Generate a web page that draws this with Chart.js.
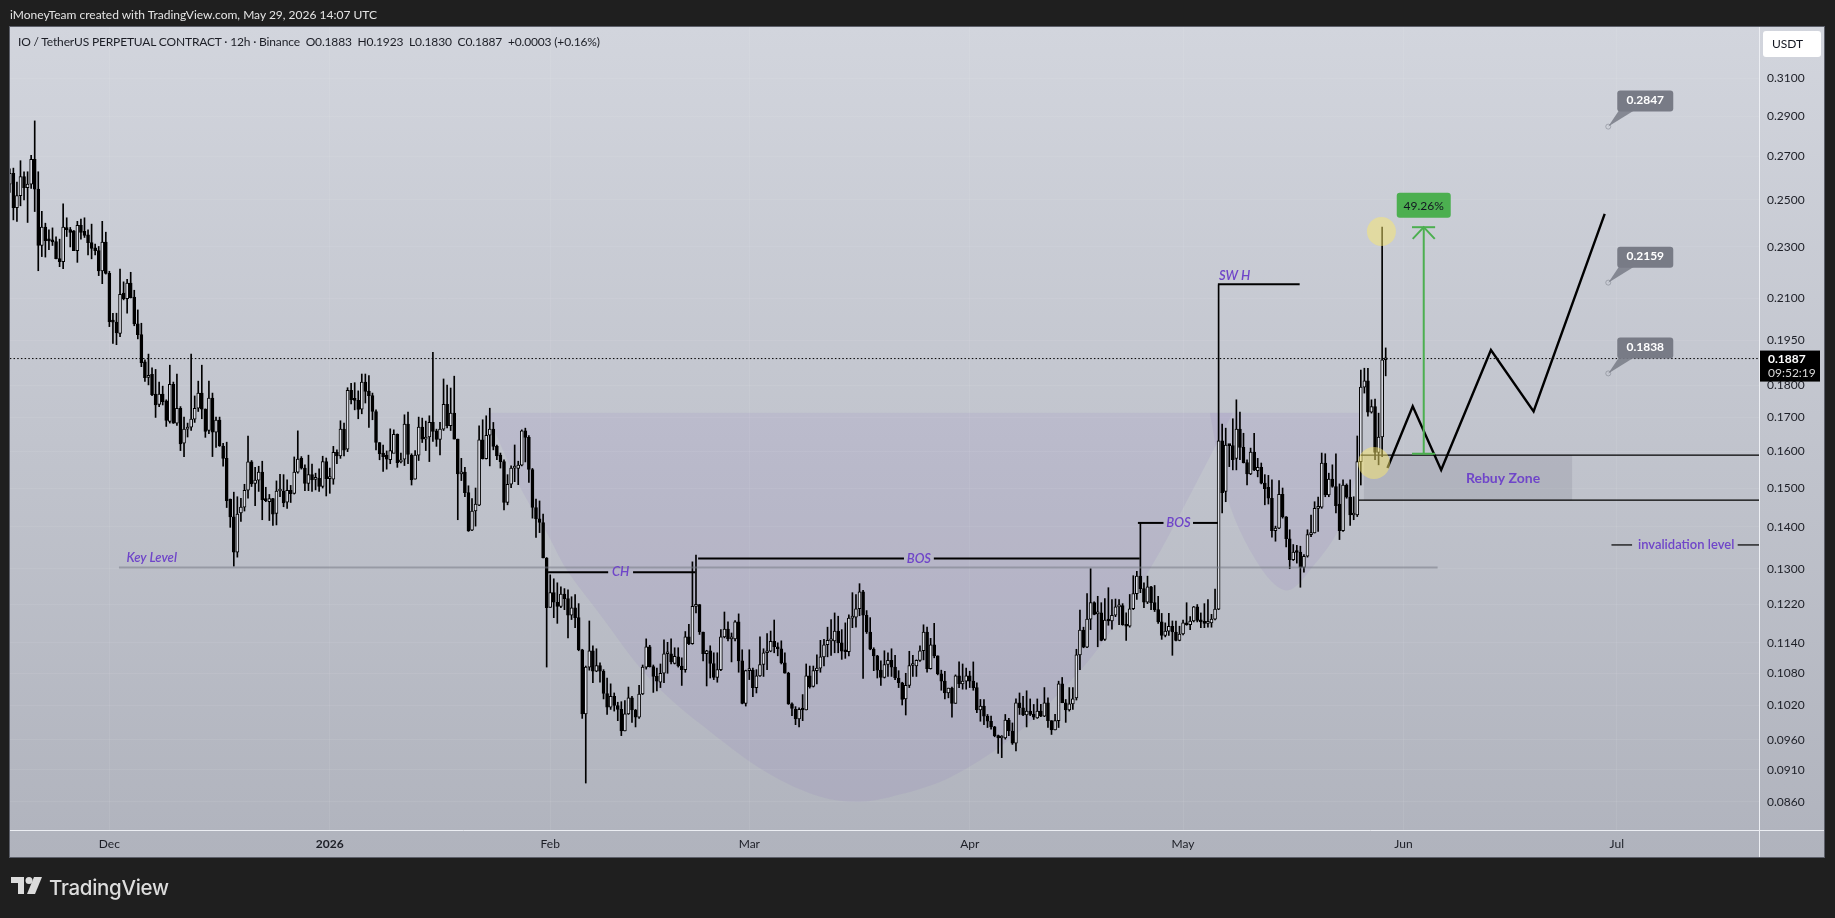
<!DOCTYPE html>
<html>
<head>
<meta charset="utf-8">
<title>IO / TetherUS 12h</title>
<script src="https://cdn.jsdelivr.net/npm/chart.js@4/dist/chart.umd.js"></script>
<style>
  html,body{margin:0;padding:0;background:#1f1f1f;overflow:hidden}
  #wrap{position:relative;width:1835px;height:918px}
  canvas{position:absolute;left:0;top:0}
  .txt{position:absolute;white-space:pre;font-family:Lato,"Noto Sans",sans-serif}
  #credit{left:10px;top:7px;font-size:12px;color:#e4e4e4}
  #legend{left:18px;top:34px;font-size:12px;letter-spacing:-.16px;color:#1c1e26}
  #brand{left:49px;top:875px;font-size:20.5px;font-weight:500;color:#dcdcdc;letter-spacing:-.3px;font-family:Inter,Lato,sans-serif}
  #logo{position:absolute;left:11px;top:877px}
</style>
</head>
<body>
<div id="wrap">
  <canvas id="chart" width="1835" height="918"></canvas>
  <div class="txt" id="credit">iMoneyTeam created with TradingView.com, May 29, 2026 14:07 UTC</div>
  <div class="txt" id="legend">IO / TetherUS PERPETUAL CONTRACT · 12h · Binance  O0.1883  H0.1923  L0.1830  C0.1887  +0.0003 (+0.16%)</div>
  <svg id="logo" width="31" height="18" viewBox="0 0 31 18"><path fill="#dcdcdc" d="M0 0h13v17H7V6H0z"/><circle fill="#dcdcdc" cx="18" cy="3.5" r="3.5"/><path fill="#dcdcdc" d="M23 0h8l-7 17h-8z"/></svg>
  <div class="txt" id="brand">TradingView</div>
</div>
<script>
// 12h candles, oldest first
const opens = [
.2571,.2621,.2466,.2519,.2606,.2555,.2571,.2687,.2548,.2306,
.2382,.2326,.2326,.2322,.2253,.2241,.2377,.2372,.2367,.2285,
.2390,.2365,.2350,.2318,.2296,.2285,.2204,.2320,.2195,.2017,
.2013,.1973,.2119,.2098,.2157,.2104,.2007,.1969,.1876,.1825,
.1835,.1772,.1740,.1772,.1751,.1688,.1803,.1683,.1728,.1624,
.1665,.1671,.1695,.1728,.1775,.1725,.1661,.1759,.1656,.1692,
.1616,.1581,.1471,.1425,.1339,.1435,.1450,.1494,.1571,.1512,
.1521,.1543,.1471,.1464,.1472,.1434,.1492,.1492,.1463,.1494,
.1486,.1543,.1581,.1554,.1512,.1536,.1523,.1526,.1504,.1572,
.1525,.1524,.1598,.1588,.1665,.1607,.1784,.1754,.1752,.1725,
.1810,.1781,.1767,.1718,.1626,.1596,.1590,.1577,.1595,.1650,
.1571,.1579,.1680,.1590,.1524,.1590,.1671,.1636,.1642,.1685,
.1660,.1635,.1665,.1740,.1675,.1713,.1636,.1538,.1543,.1488,
.1392,.1440,.1455,.1634,.1580,.1647,.1665,.1615,.1590,.1572,
.1462,.1510,.1554,.1553,.1562,.1660,.1641,.1550,.1449,.1420,
.1411,.1325,.1214,.1246,.1225,.1216,.1243,.1233,.1197,.1213,
.1192,.1126,.1005,.1092,.1124,.1084,.1095,.1084,.1042,.1017,
.1037,.1020,.1013,.0975,.1005,.1034,.1012,.0999,.1041,.1092,
.1132,.1093,.1074,.1063,.1080,.1118,.1118,.1099,.1112,.1094,
.1087,.1152,.1138,.1216,.1220,.1162,.1118,.1124,.1099,.1072,
.1087,.1152,.1168,.1148,.1148,.1183,.1104,.1024,.1085,.1086,
.1053,.1075,.1097,.1120,.1123,.1143,.1132,.1128,.1100,.1080,
.1023,.1013,.0996,.1013,.1012,.1075,.1055,.1085,.1090,.1112,
.1136,.1144,.1144,.1164,.1140,.1123,.1122,.1191,.1193,.1211,
.1248,.1197,.1162,.1127,.1114,.1086,.1072,.1097,.1105,.1092,
.1071,.1062,.1032,.1057,.1095,.1094,.1105,.1124,.1162,.1089,
.1136,.1114,.1079,.1065,.1043,.1052,.1024,.1075,.1060,.1065,
.1075,.1065,.1053,.1012,.1019,.1001,.0992,.0982,.0967,.0963,
.0963,.0994,.0975,.0954,.1025,.1016,.1003,.1010,.1004,.0998,
.1010,.1001,.1025,.0993,.0977,.0993,.1060,.1025,.1012,.1023,
.1034,.1116,.1166,.1131,.1189,.1224,.1200,.1202,.1147,.1187,
.1185,.1197,.1215,.1218,.1177,.1174,.1211,.1244,.1283,.1255,
.1225,.1259,.1224,.1209,.1183,.1155,.1164,.1174,.1162,.1145,
.1158,.1181,.1177,.1185,.1215,.1186,.1183,.1180,.1181,.1189,
.1210,.1631,.1491,.1619,.1617,.1581,.1665,.1612,.1569,.1538,
.1599,.1547,.1556,.1513,.1502,.1473,.1391,.1397,.1483,.1425,
.1371,.1321,.1339,.1339,.1303,.1329,.1381,.1385,.1447,.1450,
.1568,.1482,.1524,.1504,.1458,.1391,.1508,.1476,.1430,.1430,
.1572,.1794,.1814,.1716,.1733,.1598,.1642,.1883];
const highs = [
.2642,.2645,.2580,.2680,.2628,.2628,.2706,.2876,.2628,.2450,
.2399,.2371,.2379,.2342,.2332,.2483,.2422,.2381,.2368,.2407,
.2417,.2422,.2371,.2395,.2312,.2302,.2407,.2361,.2203,.2045,
.2045,.2211,.2162,.2172,.2199,.2130,.2057,.2009,.1883,.1902,
.1856,.1851,.1810,.1797,.1754,.1865,.1810,.1836,.1733,.1701,
.1683,.1902,.1766,.1813,.1865,.1726,.1813,.1775,.1701,.1701,
.1624,.1627,.1471,.1489,.1477,.1473,.1510,.1645,.1575,.1556,
.1559,.1573,.1502,.1483,.1473,.1519,.1537,.1536,.1522,.1507,
.1585,.1660,.1586,.1563,.1590,.1565,.1540,.1552,.1587,.1582,
.1554,.1615,.1605,.1690,.1683,.1792,.1806,.1808,.1782,.1836,
.1836,.1831,.1775,.1723,.1626,.1619,.1602,.1666,.1663,.1651,
.1596,.1708,.1716,.1594,.1603,.1701,.1698,.1689,.1705,.1908,
.1665,.1685,.1820,.1800,.1791,.1829,.1636,.1581,.1556,.1506,
.1472,.1500,.1675,.1693,.1705,.1728,.1685,.1619,.1596,.1577,
.1536,.1560,.1619,.1573,.1663,.1668,.1646,.1553,.1471,.1466,
.1432,.1326,.1286,.1277,.1268,.1259,.1255,.1252,.1237,.1242,
.1222,.1127,.1094,.1185,.1134,.1128,.1100,.1087,.1071,.1060,
.1043,.1026,.1027,.1029,.1054,.1037,.1013,.1057,.1096,.1148,
.1135,.1096,.1090,.1098,.1146,.1141,.1148,.1130,.1130,.1110,
.1163,.1178,.1316,.1332,.1220,.1162,.1125,.1134,.1120,.1120,
.1167,.1204,.1183,.1160,.1186,.1200,.1126,.1086,.1126,.1090,
.1087,.1152,.1128,.1159,.1164,.1187,.1140,.1144,.1120,.1082,
.1025,.1018,.1016,.1040,.1098,.1094,.1094,.1116,.1145,.1147,
.1172,.1188,.1202,.1195,.1167,.1181,.1198,.1246,.1242,.1266,
.1251,.1207,.1192,.1130,.1115,.1104,.1124,.1120,.1128,.1115,
.1085,.1063,.1080,.1123,.1115,.1106,.1134,.1177,.1172,.1149,
.1180,.1114,.1086,.1084,.1052,.1054,.1077,.1102,.1098,.1090,
.1084,.1102,.1062,.1031,.1031,.1004,.1001,.0983,.0968,.0967,
.1004,.0997,.0989,.1032,.1043,.1037,.1047,.1032,.1022,.1032,
.1022,.1053,.1034,.0993,.1004,.1065,.1072,.1031,.1053,.1053,
.1127,.1208,.1172,.1244,.1300,.1226,.1238,.1224,.1233,.1257,
.1231,.1232,.1231,.1222,.1202,.1242,.1284,.1294,.1410,.1268,
.1283,.1260,.1262,.1238,.1201,.1181,.1201,.1185,.1185,.1174,
.1187,.1224,.1194,.1216,.1220,.1202,.1222,.1231,.1199,.1254,
.2150,.1680,.1668,.1619,.1696,.1754,.1716,.1653,.1577,.1610,
.1653,.1581,.1568,.1536,.1534,.1522,.1402,.1520,.1500,.1426,
.1393,.1357,.1355,.1353,.1333,.1393,.1430,.1464,.1476,.1596,
.1594,.1540,.1563,.1594,.1511,.1522,.1511,.1522,.1477,.1645,
.1849,.1855,.1855,.1754,.1756,.1713,.2382,.1923];
const lows = [
.2533,.2413,.2406,.2474,.2500,.2402,.2551,.2449,.2205,.2261,
.2259,.2289,.2306,.2252,.2221,.2213,.2343,.2300,.2285,.2238,
.2332,.2339,.2268,.2252,.2268,.2186,.2155,.2192,.1997,.1938,
.1934,.1962,.2094,.2045,.2101,.2000,.1954,.1860,.1812,.1801,
.1767,.1700,.1733,.1738,.1673,.1683,.1682,.1676,.1603,.1586,
.1642,.1661,.1685,.1718,.1696,.1641,.1652,.1586,.1612,.1615,
.1559,.1449,.1399,.1306,.1327,.1414,.1440,.1473,.1504,.1454,
.1491,.1418,.1464,.1416,.1404,.1405,.1477,.1451,.1447,.1462,
.1484,.1540,.1551,.1493,.1493,.1491,.1495,.1491,.1500,.1479,
.1486,.1510,.1566,.1581,.1588,.1600,.1741,.1723,.1696,.1711,
.1744,.1670,.1693,.1605,.1577,.1545,.1551,.1566,.1597,.1556,
.1568,.1561,.1566,.1508,.1524,.1575,.1626,.1603,.1572,.1629,
.1615,.1591,.1661,.1669,.1661,.1636,.1418,.1520,.1477,.1389,
.1391,.1402,.1454,.1579,.1579,.1560,.1605,.1577,.1554,.1443,
.1456,.1501,.1517,.1509,.1560,.1571,.1515,.1422,.1374,.1386,
.1325,.1092,.1214,.1192,.1180,.1213,.1209,.1150,.1188,.1171,
.1124,.0997,.0889,.1086,.1062,.1083,.1063,.1032,.1004,.1013,
.1010,.0993,.0967,.0975,.1004,.0990,.0982,.0997,.1040,.1088,
.1092,.1044,.1047,.1053,.1062,.1080,.1098,.1098,.1092,.1057,
.1082,.1136,.1137,.1202,.1157,.1104,.1056,.1071,.1068,.1063,
.1085,.1150,.1144,.1102,.1144,.1082,.1023,.1019,.1068,.1036,
.1043,.1074,.1074,.1087,.1122,.1120,.1114,.1098,.1080,.1022,
.1002,.0986,.0982,.0993,.1012,.1052,.1054,.1060,.1082,.1094,
.1112,.1115,.1120,.1120,.1107,.1109,.1114,.1171,.1172,.1196,
.1070,.1159,.1126,.1085,.1071,.1057,.1071,.1074,.1074,.1068,
.1053,.1021,.1003,.1053,.1074,.1074,.1103,.1106,.1082,.1088,
.1110,.1077,.1048,.1032,.1034,.0999,.1024,.1053,.1050,.1050,
.1053,.1048,.1007,.0992,.0986,.0981,.0978,.0965,.0937,.0930,
.0961,.0967,.0952,.0941,.1004,.1002,.0982,.1002,.0995,.0997,
.1000,.1000,.0981,.0969,.0977,.0981,.1025,.0990,.1010,.1013,
.1030,.1087,.1130,.1130,.1167,.1198,.1132,.1144,.1145,.1176,
.1168,.1194,.1177,.1176,.1145,.1172,.1209,.1231,.1246,.1213,
.1222,.1209,.1205,.1180,.1147,.1152,.1155,.1115,.1144,.1144,
.1156,.1176,.1167,.1183,.1183,.1171,.1171,.1172,.1172,.1187,
.1209,.1435,.1464,.1558,.1549,.1549,.1577,.1568,.1508,.1536,
.1547,.1530,.1511,.1456,.1458,.1375,.1365,.1396,.1422,.1351,
.1300,.1319,.1313,.1258,.1292,.1327,.1376,.1385,.1389,.1447,
.1477,.1477,.1502,.1435,.1369,.1389,.1473,.1404,.1418,.1426,
.1508,.1775,.1704,.1713,.1577,.1563,.1586,.1830];
const closes = [
.2621,.2466,.2519,.2606,.2555,.2571,.2687,.2548,.2306,.2382,
.2326,.2325,.2321,.2253,.2241,.2382,.2372,.2360,.2285,.2390,
.2360,.2347,.2318,.2294,.2285,.2204,.2320,.2195,.2015,.2013,
.1975,.2115,.2098,.2157,.2102,.2007,.1969,.1873,.1824,.1832,
.1770,.1738,.1772,.1748,.1691,.1803,.1683,.1728,.1622,.1665,
.1670,.1695,.1728,.1775,.1725,.1658,.1759,.1656,.1692,.1616,
.1581,.1467,.1425,.1339,.1432,.1450,.1494,.1571,.1511,.1521,
.1543,.1469,.1467,.1472,.1432,.1492,.1493,.1461,.1494,.1485,
.1543,.1579,.1554,.1512,.1536,.1522,.1526,.1504,.1572,.1525,
.1527,.1598,.1588,.1665,.1604,.1784,.1754,.1752,.1724,.1810,
.1780,.1767,.1718,.1626,.1594,.1586,.1579,.1603,.1650,.1569,
.1577,.1680,.1592,.1522,.1590,.1671,.1636,.1642,.1685,.1658,
.1635,.1665,.1740,.1675,.1713,.1636,.1538,.1543,.1488,.1390,
.1440,.1458,.1634,.1580,.1647,.1665,.1615,.1588,.1572,.1462,
.1510,.1554,.1555,.1562,.1660,.1641,.1550,.1449,.1420,.1411,
.1325,.1213,.1246,.1225,.1216,.1243,.1233,.1197,.1213,.1192,
.1126,.1005,.1092,.1124,.1084,.1095,.1084,.1042,.1017,.1037,
.1020,.1013,.0975,.1005,.1034,.1012,.0999,.1041,.1092,.1132,
.1093,.1074,.1065,.1080,.1118,.1120,.1102,.1113,.1094,.1087,
.1152,.1138,.1216,.1220,.1162,.1118,.1124,.1099,.1072,.1087,
.1152,.1168,.1148,.1148,.1183,.1104,.1024,.1085,.1087,.1053,
.1075,.1097,.1120,.1123,.1143,.1132,.1128,.1100,.1080,.1023,
.1015,.0996,.1013,.1012,.1075,.1054,.1085,.1090,.1112,.1136,
.1145,.1145,.1164,.1140,.1123,.1122,.1191,.1193,.1211,.1248,
.1197,.1162,.1127,.1114,.1086,.1072,.1097,.1105,.1092,.1071,
.1062,.1031,.1057,.1095,.1095,.1105,.1124,.1162,.1089,.1136,
.1114,.1079,.1065,.1043,.1052,.1024,.1075,.1060,.1065,.1075,
.1065,.1053,.1012,.1019,.1001,.0992,.0982,.0967,.0963,.0964,
.0994,.0975,.0954,.1025,.1016,.1003,.1010,.1004,.0999,.1010,
.1001,.1025,.0993,.0977,.0993,.1060,.1025,.1012,.1023,.1032,
.1116,.1166,.1131,.1189,.1224,.1199,.1202,.1145,.1187,.1185,
.1197,.1215,.1218,.1177,.1174,.1211,.1244,.1283,.1255,.1225,
.1259,.1224,.1209,.1183,.1155,.1164,.1174,.1162,.1145,.1158,
.1181,.1177,.1185,.1215,.1186,.1183,.1180,.1183,.1189,.1210,
.1631,.1488,.1619,.1617,.1577,.1665,.1612,.1569,.1538,.1599,
.1549,.1556,.1513,.1498,.1473,.1391,.1397,.1483,.1425,.1371,
.1321,.1339,.1338,.1303,.1329,.1381,.1385,.1447,.1450,.1568,
.1482,.1524,.1504,.1454,.1391,.1508,.1476,.1430,.1432,.1572,
.1794,.1814,.1716,.1733,.1598,.1642,.1883,.1887];

// axes
const priceTicks = [0.31,0.29,0.27,0.25,0.23,0.21,0.195,0.18,0.17,0.16,0.15,0.14,0.13,0.122,0.114,0.108,0.102,0.096,0.091,0.086];
const timeTicks = [28,90,152,208,270,330,392,452];
const timeLabels = ['Dec','2026','Feb','Mar','Apr','May','Jun','Jul'];

// drawings, x in candle index, y in price
const cupX = [134.1,143.5,151,156.6,165,180.9,199.7,213.8,227.8,239.1,250.3,264.4,280.3,293.4,306.6,320.6,332.7,344];
const cupY = [.1714,.1503,.1386,.1298,.1209,.1063,.0961,.0903,.0868,.0860,.0871,.0898,.0956,.1031,.1133,.1298,.1495,.1714];
const cup2X = [337.5,342.6,351.6,359.2,366.5,374.1,378.8,380.5];
const cup2Y = [.1714,.1469,.1305,.1251,.1305,.1400,.1541,.1714];
const pathX = [387.5,394.6,402.6,416.6,428.6,448.6];
const pathY = [.1554,.1734,.1549,.1916,.1718,.2439];
const lastPrice = 0.1887;
const keyLevel = 0.1303, chLevel = 0.1292, bosLevel = 0.1324, bos2Level = 0.1410, swhLevel = 0.2153;
const rebuyTop = 0.1590, rebuyBottom = 0.1468, invalidLevel = 0.1356;
const targetLow = 0.1594, targetHigh = 0.2382, targetHead = 0.2333;
const callouts = [0.2847, 0.2159, 0.1838];
const circleX = [385.8, 383.7];
const circleY = [0.2364, 0.1568];

const ink = '#000000', purple = '#6f45c9', green = '#4caf50';
const fontName = 'Lato, "Noto Sans", sans-serif';
const idx = opens.map((_, i) => i);

function path(xs, ys, color, width, extra){
  return Object.assign({
    type: 'line',
    data: xs.map((x, i) => ({x: x, y: ys[i]})),
    borderColor: color, borderWidth: width,
    pointRadius: 0, tension: 0, order: 3
  }, extra || {});
}

const datasets = [
  // cup shapes, filled up to their flat top
  path(cupX, cupY, 'rgba(0,0,0,0)', 0, {fill: {target: {value: cupY[0]}}, backgroundColor: 'rgba(118,88,184,0.09)', tension: 0.35, order: 20}),
  path(cup2X, cup2Y, 'rgba(0,0,0,0)', 0, {fill: {target: {value: cup2Y[0]}}, backgroundColor: 'rgba(118,88,184,0.09)', tension: 0.35, order: 20}),
  // rebuy zone
  path([380.8, 439.5], [rebuyTop, rebuyTop], 'rgba(0,0,0,0)', 0, {fill: {target: {value: rebuyBottom}}, backgroundColor: 'rgba(110,113,125,0.18)', order: 19}),
  // wicks then bodies
  {type: 'bar', data: idx.map(i => ({x: i, y: [lows[i], highs[i]]})), backgroundColor: ink, barThickness: 1, minBarLength: 1, grouped: false, order: 6},
  {type: 'bar', data: idx.map(i => ({x: i, y: [opens[i], closes[i]]})),
    backgroundColor: idx.map(i => closes[i] >= opens[i] ? '#dcdee6' : ink),
    borderColor: ink, borderWidth: 1, borderSkipped: false, barThickness: 3, minBarLength: 2, grouped: false, order: 5},
  // key level and structure lines
  path([30.7, 401.6], [keyLevel, keyLevel], 'rgba(120,123,134,0.55)', 2),
  path([151.4, 168.3], [chLevel, chLevel], ink, 2),
  path([175.3, 192.8], [chLevel, chLevel], ink, 2),
  path([193.6, 251.5], [bosLevel, bosLevel], ink, 2),
  path([259.9, 317.8], [bosLevel, bosLevel], ink, 2),
  path([317.3, 324.5], [bos2Level, bos2Level], ink, 2),
  path([332.8, 339.8], [bos2Level, bos2Level], ink, 2),
  path([339.8, 362.8], [swhLevel, swhLevel], ink, 2),
  path([380, 492], [rebuyTop, rebuyTop], ink, 1.2),
  path([379.4, 492], [rebuyBottom, rebuyBottom], ink, 1.2),
  path([450.5, 456.3], [invalidLevel, invalidLevel], ink, 1.2),
  path([486, 492], [invalidLevel, invalidLevel], ink, 1.2),
  path(pathX, pathY, ink, 2.4, {order: 2}),
  // last price
  path([0, 492], [lastPrice, lastPrice], ink, 1, {borderDash: [1.5, 2.2], order: 4}),
  // measure arrow
  path([397.7, 397.7], [targetLow, targetHigh], green, 2, {order: 1}),
  path([394.4, 400.9], [targetLow, targetLow], green, 2, {order: 1}),
  path([394.4, 400.9], [targetHigh, targetHigh], green, 2, {order: 1}),
  path([394.6, 397.7, 400.8], [targetHead, targetHigh, targetHead], green, 2, {order: 1}),
  // highlight circles
  {type: 'scatter', data: circleX.map((x, i) => ({x: x, y: circleY[i]})), backgroundColor: 'rgba(250,232,110,0.5)', borderWidth: 0,
    pointRadius: [14.5, 16], order: 0}
];

function label(ctx, text, x, y, color, font){
  ctx.font = font; ctx.fillStyle = color;
  ctx.textAlign = 'center'; ctx.textBaseline = 'middle';
  ctx.fillText(text, x, y);
}

function roundBox(ctx, x, y, w, h, r, color){
  ctx.fillStyle = color;
  ctx.beginPath(); ctx.roundRect(x, y, w, h, r); ctx.fill();
}

const decor = {
  id: 'decor',
  beforeDraw(chart){
    const ctx = chart.ctx;
    ctx.save();
    ctx.fillStyle = '#1f1f1f'; ctx.fillRect(0, 0, 1835, 918);
    const g = ctx.createLinearGradient(0, 27, 0, 857);
    g.addColorStop(0, '#d2d5dd'); g.addColorStop(1, '#b0b3bd');
    ctx.fillStyle = g; ctx.fillRect(10, 27, 1814, 830);
    ctx.strokeStyle = '#5c5f69'; ctx.lineWidth = 1;
    ctx.strokeRect(9.5, 26.5, 1815, 831);
    ctx.restore();
  },
  afterDatasetsDraw(chart){
    const ctx = chart.ctx, xs = chart.scales.x, ys = chart.scales.y;
    const px = v => xs.getPixelForValue(v), py = v => ys.getPixelForValue(v);
    ctx.save();
    const it = 'italic 600 13px ' + fontName;
    label(ctx, 'Key Level', px(39.9), py(keyLevel) - 10, purple, it);
    label(ctx, 'CH', px(171.8), py(chLevel), purple, it);
    label(ctx, 'BOS', px(255.7), py(bosLevel), purple, it);
    label(ctx, 'BOS', px(328.7), py(bos2Level), purple, it);
    label(ctx, 'SW H', px(344.5), py(swhLevel) - 8, purple, it);
    label(ctx, 'Rebuy Zone', px(420), py(0.1525), purple, 'bold 14px ' + fontName);
    label(ctx, 'invalidation level', px(471.5), py(invalidLevel), purple, '600 13px ' + fontName);

    // percent tag above the arrow
    const tagX = px(397.7), tagY = py(targetHigh);
    roundBox(ctx, tagX - 27, tagY - 34.5, 54, 25, 3, green);
    label(ctx, '49.26%', tagX, tagY - 21.5, '#131722', '12px ' + fontName);

    // target callouts
    callouts.forEach(v => {
      const ax = px(449.6), ay = py(v), bx = ax + 9, by = ay - 36;
      ctx.fillStyle = 'rgba(120,123,134,0.85)';
      ctx.beginPath(); ctx.moveTo(ax, ay); ctx.lineTo(bx + 3, by + 18); ctx.lineTo(bx + 20, by + 18); ctx.closePath(); ctx.fill();
      ctx.strokeStyle = 'rgba(120,123,134,0.5)'; ctx.lineWidth = 1;
      ctx.beginPath(); ctx.arc(ax, ay, 2.5, 0, Math.PI * 2); ctx.stroke();
      roundBox(ctx, bx, by, 56, 21, 3, '#787b86');
      label(ctx, v.toFixed(4), bx + 28, by + 9.5, '#ffffff', 'bold 12px ' + fontName);
    });
    ctx.restore();
  },
  afterDraw(chart){
    const ctx = chart.ctx, ys = chart.scales.y;
    ctx.save();
    ctx.strokeStyle = '#eceef3'; ctx.lineWidth = 1;
    ctx.beginPath();
    ctx.moveTo(1759.5, 27); ctx.lineTo(1759.5, 857);
    ctx.moveTo(10, 830.5); ctx.lineTo(1824, 830.5);
    ctx.stroke();

    // currency button
    roundBox(ctx, 1763, 31, 58, 26, 3, '#ffffff');
    ctx.textAlign = 'left'; ctx.textBaseline = 'middle';
    ctx.fillStyle = '#131722'; ctx.font = '12px ' + fontName;
    ctx.fillText('USDT', 1772, 44.5);

    // last price tag
    const y = ys.getPixelForValue(lastPrice);
    ctx.fillStyle = '#000000'; ctx.fillRect(1760, y - 8, 60, 31);
    ctx.fillStyle = '#ffffff'; ctx.font = 'bold 12px ' + fontName;
    ctx.fillText(lastPrice.toFixed(4), 1768, y + 0.5);
    ctx.fillStyle = '#d8d8d8'; ctx.font = '12px ' + fontName;
    ctx.fillText('09:52:19', 1768, y + 14.5);
    ctx.restore();
  }
};

new Chart(document.getElementById('chart'), {
  type: 'bar',
  data: {datasets: datasets},
  plugins: [decor],
  options: {
    responsive: false,
    animation: false,
    devicePixelRatio: 1,
    // the circles' radius must not push the pane edges
    layout: {autoPadding: false, padding: {left: 10, top: 27, right: 11, bottom: 61}},
    plugins: {legend: {display: false}, tooltip: {enabled: false}},
    scales: {
      x: {
        type: 'linear', min: 0.05, max: 492, offset: false, bounds: 'data',
        afterBuildTicks: s => { s.ticks = timeTicks.map(v => ({value: v})); },
        afterFit: s => { s.height = 27; s.paddingLeft = 0; s.paddingRight = 0; },
        grid: {color: 'rgba(255,255,255,0.07)', drawTicks: false, offset: false},
        border: {display: false},
        ticks: {
          autoSkip: false, maxRotation: 0, padding: 7, color: '#1c1e26',
          font: c => ({family: fontName, size: 12, weight: c.tick && c.tick.value === 90 ? 'bold' : 'normal'}),
          callback: v => timeLabels[timeTicks.indexOf(v)]
        }
      },
      y: {
        type: 'logarithmic', position: 'right', min: 0.0818, max: 0.3397,
        afterBuildTicks: s => { s.ticks = priceTicks.map(v => ({value: v})); },
        afterFit: s => { s.width = 65; s.paddingTop = 0; s.paddingBottom = 0; },
        grid: {color: 'rgba(255,255,255,0.07)', drawTicks: false},
        border: {display: false},
        ticks: {
          autoSkip: false, padding: 8, color: '#1c1e26', crossAlign: 'near',
          font: {family: fontName, size: 12},
          callback: v => Number(v).toFixed(4)
        }
      }
    }
  }
});
</script>
</body>
</html>
